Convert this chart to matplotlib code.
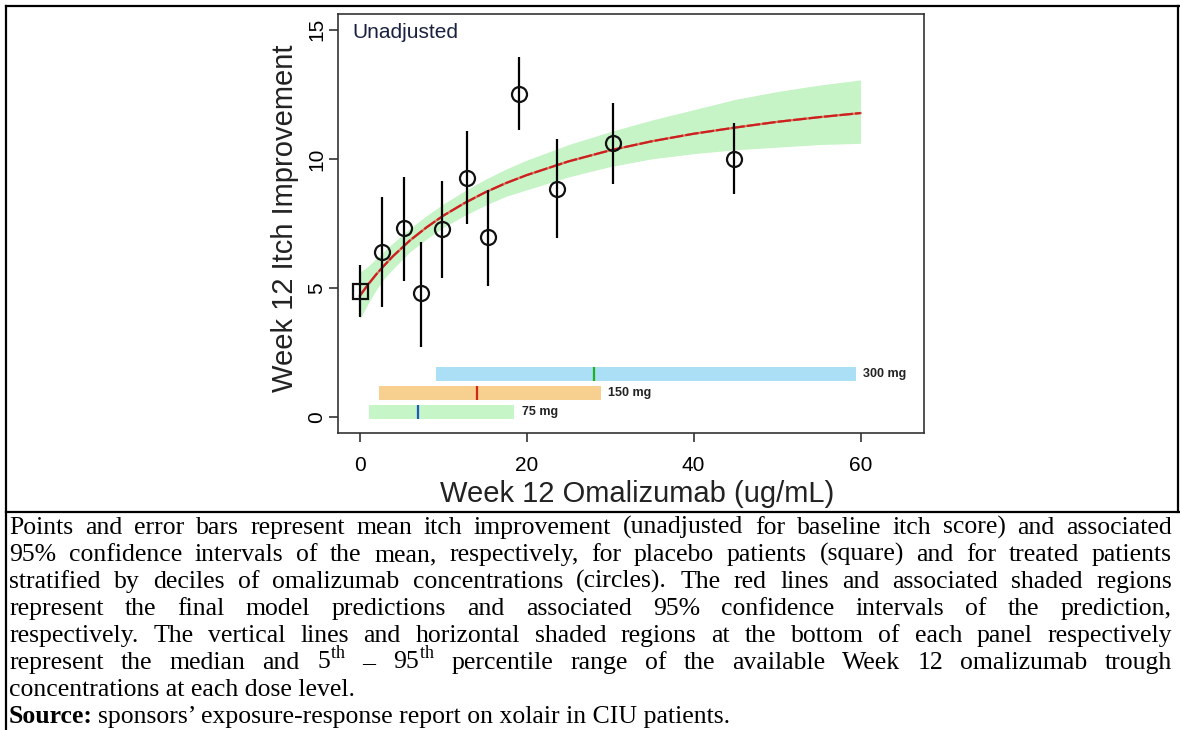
import matplotlib
matplotlib.use('Agg')
import matplotlib.pyplot as plt
from matplotlib.lines import Line2D

plt.rcParams['font.family'] = ['Liberation Sans', 'DejaVu Sans']
plt.rcParams['mathtext.fontset'] = 'custom'
plt.rcParams['mathtext.rm'] = 'Liberation Serif'

W, H = 1180, 730

# ---- data ----
# placebo (square)
placebo_conc = [0.0]
placebo_mean = [4.90]
placebo_lo = [3.90]
placebo_hi = [5.89]

# treated patients, deciles of concentration (circles)
dec_conc = [2.7, 5.3, 7.4, 9.9, 12.8, 15.4, 19.1, 23.6, 30.3, 44.8]
dec_mean = [6.38, 7.31, 4.81, 7.29, 9.26, 6.97, 12.49, 8.84, 10.61, 10.00]
dec_lo = [4.29, 5.28, 2.74, 5.39, 7.48, 5.07, 11.12, 6.93, 9.02, 8.64]
dec_hi = [8.52, 9.29, 6.79, 9.14, 11.09, 8.81, 13.94, 10.78, 12.16, 11.40]

# model prediction and 95% CI
pred_conc = [0, 1, 2, 3, 4, 6, 8, 10, 12.5, 15, 17.5, 20, 25, 30, 35, 40, 45, 50, 55, 60]
pred_mean = [4.70, 5.14, 5.54, 5.90, 6.24, 6.84, 7.35, 7.80, 8.28, 8.70,
             9.06, 9.37, 9.90, 10.33, 10.68, 10.97, 11.21, 11.43, 11.61, 11.77]
pred_lo = [3.80, 4.40, 4.95, 5.40, 5.75, 6.40, 6.90, 7.35, 7.80, 8.20,
           8.55, 8.80, 9.30, 9.70, 10.00, 10.20, 10.35, 10.45, 10.55, 10.60]
pred_hi = [5.60, 5.85, 6.15, 6.45, 6.75, 7.30, 7.80, 8.25, 8.75, 9.20,
           9.60, 9.95, 10.55, 11.05, 11.50, 11.90, 12.30, 12.60, 12.85, 13.05]

# week 12 trough concentrations by dose: 5th, median, 95th percentile
dose_labels = ['75 mg', '150 mg', '300 mg']
dose_p05 = [1.1, 2.3, 9.1]
dose_median = [7.0, 14.0, 28.1]
dose_p95 = [18.5, 28.9, 59.4]

caption_lines = [
    "Points and error bars represent mean itch improvement (unadjusted for baseline itch score) and associated",
    "95% confidence intervals of the mean, respectively, for placebo patients (square) and for treated patients",
    "stratified by deciles of omalizumab concentrations (circles). The red lines and associated shaded regions",
    "represent the final model predictions and associated 95% confidence intervals of the prediction,",
    "respectively. The vertical lines and horizontal shaded regions at the bottom of each panel respectively",
    r"represent the median and 5$^{\mathrm{th}}$ – 95$^{\mathrm{th}}$ percentile range of the available Week 12 omalizumab trough",
    "concentrations at each dose level.",
]
source_bold = "Source:"
source_text = "sponsors’ exposure-response report on xolair in CIU patients."

BAR_COLORS = ['#c6f5c8', '#f7cf8e', '#aadff5']
MED_COLORS = ['#1f58b8', '#cc2a1a', '#1db31d']
DOSE_ROWS = [0.2, 0.95, 1.68]

fig = plt.figure(figsize=(W / 100, H / 100), dpi=100)

# plot area
ax = fig.add_axes([338 / W, (H - 433) / H, (924 - 338) / W, (433 - 14) / H])
ax.set_xlim(-2.6, 67.6)
ax.set_ylim(-0.6, 15.6)

ax.fill_between(pred_conc, pred_lo, pred_hi, color='#c6f4c6', lw=0, zorder=1)
ax.plot(pred_conc, pred_mean, color='#d8785e', lw=1.6, zorder=2)
ax.plot(pred_conc, pred_mean, color='#cc2020', lw=1.6, dashes=(6, 1), zorder=3)

ax.vlines(dec_conc, dec_lo, dec_hi, color='black', lw=1.6, zorder=4)
ax.vlines(placebo_conc, placebo_lo, placebo_hi, color='black', lw=1.6, zorder=4)
ax.plot(dec_conc, dec_mean, 'o', ms=10.8, mfc='none', mec='#111111', mew=1.6, zorder=5)
ax.plot(placebo_conc, placebo_mean, 's', ms=10.8, mfc='none', mec='#111111', mew=1.6, zorder=5)

# dose level ranges + medians
for i, lab in enumerate(dose_labels):
    yc = DOSE_ROWS[i]
    ax.barh(yc, dose_p95[i] - dose_p05[i], left=dose_p05[i], height=0.54,
            color=BAR_COLORS[i], lw=0, zorder=2)
    ax.vlines(dose_median[i], yc - 0.27, yc + 0.27, color=MED_COLORS[i], lw=1.6, zorder=3)
    ax.text(dose_p95[i] + 0.9, yc, lab, ha='left', va='center', fontsize=9,
            fontweight='bold', color='#222222', clip_on=False)

ax.set_xticks([0, 20, 40, 60])
ax.set_yticks([0, 5, 10, 15])
for s in ax.spines.values():
    s.set_linewidth(1.2)
    s.set_color('#333333')
ax.tick_params(direction='out', length=6.5, width=1.2, color='#333333', labelsize=15)
ax.tick_params(axis='x', pad=10)
ax.tick_params(axis='y', pad=2)
for t in ax.get_yticklabels():
    t.set_rotation(90)
    t.set_va('center')

fig.text(285 / W, 1 - 218 / H, 'Week 12 Itch Improvement', rotation=90,
         ha='center', va='center', fontsize=21, color='#222222')
fig.text(637 / W, 1 - 494 / H, 'Week 12 Omalizumab (ug/mL)',
         ha='center', va='center', fontsize=21, color='#222222')
fig.text(352 / W, 1 - 32 / H, 'Unadjusted', ha='left', va='center',
         fontsize=15, color='#1a2040')

# table borders
def hline(y, x0, x1):
    fig.add_artist(Line2D([x0 / W, x1 / W], [1 - y / H, 1 - y / H],
                          transform=fig.transFigure, color='black', lw=1.6))

def vline(x, y0, y1):
    fig.add_artist(Line2D([x / W, x / W], [1 - y0 / H, 1 - y1 / H],
                          transform=fig.transFigure, color='black', lw=1.6))

hline(5.5, 5.5, W)
hline(512, 5.5, W)
vline(5.5, 5.5, H)
vline(1177.5, 5.5, 512)

# caption, justified like the original document
renderer = fig.canvas.get_renderer()
CAP = dict(family='Liberation Serif', fontsize=18.5, color='black', va='baseline')
X0, X1 = 9, 1172
base0, step = 534, 27

def width_of(t):
    return t.get_window_extent(renderer).width

for i, line in enumerate(caption_lines):
    yb = 1 - (base0 + i * step) / H
    if i == len(caption_lines) - 1:
        fig.text(X0 / W, yb, line, **CAP)
        continue
    words = line.split(' ')
    texts = [fig.text(0, yb, w, **CAP) for w in words]
    widths = [width_of(t) for t in texts]
    gap = max((X1 - X0 - sum(widths)) / (len(words) - 1), 2.5)
    x = X0
    for t, w in zip(texts, widths):
        t.set_x(x / W)
        x += w + gap

yb = 1 - (base0 + len(caption_lines) * step) / H
tb = fig.text(X0 / W, yb, source_bold, fontweight='bold', **CAP)
wb = width_of(tb)
fig.text((X0 + wb + 5) / W, yb, source_text, **CAP)

fig.savefig('out.png', dpi=100)
